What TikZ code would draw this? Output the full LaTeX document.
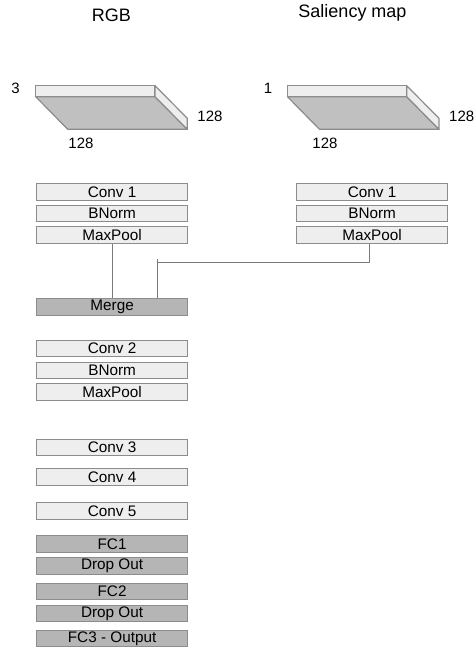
\documentclass[tikz,border=0pt]{standalone}
\usepackage{fontspec}
\setmainfont{Liberation Sans}
\begin{document}
\begin{tikzpicture}[x=1pt,y=-1pt,
  light/.style={fill=lightc,draw=edgec,line width=1.2pt},
  dark/.style={fill=darkc,draw=edgec,line width=1.2pt},
  layer/.style={minimum width=151pt,minimum height=16.5pt,inner sep=0pt,anchor=north west,font=\fontsize{15.3}{15}\selectfont},
  lbl/.style={font=\fontsize{15}{15}\selectfont,inner sep=0pt},
  ttl/.style={font=\fontsize{18}{18}\selectfont,inner sep=0pt},
  conn/.style={draw=connc,line width=0.9pt}]
\definecolor{lightc}{HTML}{EEEEEE}
\definecolor{darkc}{HTML}{B5B5B5}
\definecolor{slabc}{HTML}{C0C0C0}
\definecolor{edgec}{HTML}{8C8C8C}
\definecolor{connc}{HTML}{7A7A7A}
\useasboundingbox (0,0) rectangle (474,650);
% titles
\node[ttl] (t1) at (111.5,15.5) {RGB};
\node[ttl] (t2) at (352.5,13) {Saliency map};
% slabs
\foreach \dx/\nm in {0/a,251.7/b}{
  \begin{scope}[xshift=\dx pt]
  \draw[fill=slabc,draw=edgec,line width=1.2pt,line join=round] (35.7,96.7) -- (155,96.7) -- (187.3,129.3) -- (67.7,129.3) -- cycle;
  \draw[light,line join=round] (35.7,85.7) rectangle (155,96.7);
  \draw[light,line join=round] (155,85.7) -- (187.3,118.3) -- (187.3,129.3) -- (155,96.7) -- cycle;
  \end{scope}
}
\node[lbl] (n3) at (15.5,88) {3};
\node[lbl] (n128a) at (210,116) {128};
\node[lbl] (n128b) at (81,143) {128};
\node[lbl] (n1) at (268,88) {1};
\node[lbl] (n128c) at (461.7,116) {128};
\node[lbl] (n128d) at (325,143) {128};
% left column
\node[layer,light] (c1) at (36,183) {Conv 1};
\node[layer,light] (b1) at (36,204.5) {BNorm};
\node[layer,light] (m1) at (36,226) {MaxPool};
% right column
\node[layer,light] (c1r) at (296,183) {Conv 1};
\node[layer,light] (b1r) at (296,204.5) {BNorm};
\node[layer,light] (m1r) at (296,226) {MaxPool};
% merge
\node[layer,dark] (mg) at (36,298) {Merge};
\node[layer,light] (c2) at (36,339.5) {Conv 2};
\node[layer,light] (b2) at (36,361.5) {BNorm};
\node[layer,light] (m2) at (36,383) {MaxPool};
\node[layer,light] (c3) at (36,438.5) {Conv 3};
\node[layer,light] (c4) at (36,468) {Conv 4};
\node[layer,light] (c5) at (36,502) {Conv 5};
\node[layer,dark] (f1) at (36,535) {FC1};
\node[layer,dark] (d1) at (36,557) {Drop Out};
\node[layer,dark] (f2) at (36,582.5) {FC2};
\node[layer,dark] (d2) at (36,604.5) {Drop Out};
\node[layer,dark] (f3) at (36,629.5) {FC3 - Output};
% connectors
\coordinate (j1) at (157.3,262.3);
\coordinate (j2) at (157.3,259.3);
\draw[conn] (m1.south -| 112.3,0) -- (mg.north -| 112.3,0);
\draw[conn] (m1r.south -| 369,0) -- (369,262.3) -- (j1);
\draw[conn] (j2) -- (mg.north -| j2);
\end{tikzpicture}
\end{document}
